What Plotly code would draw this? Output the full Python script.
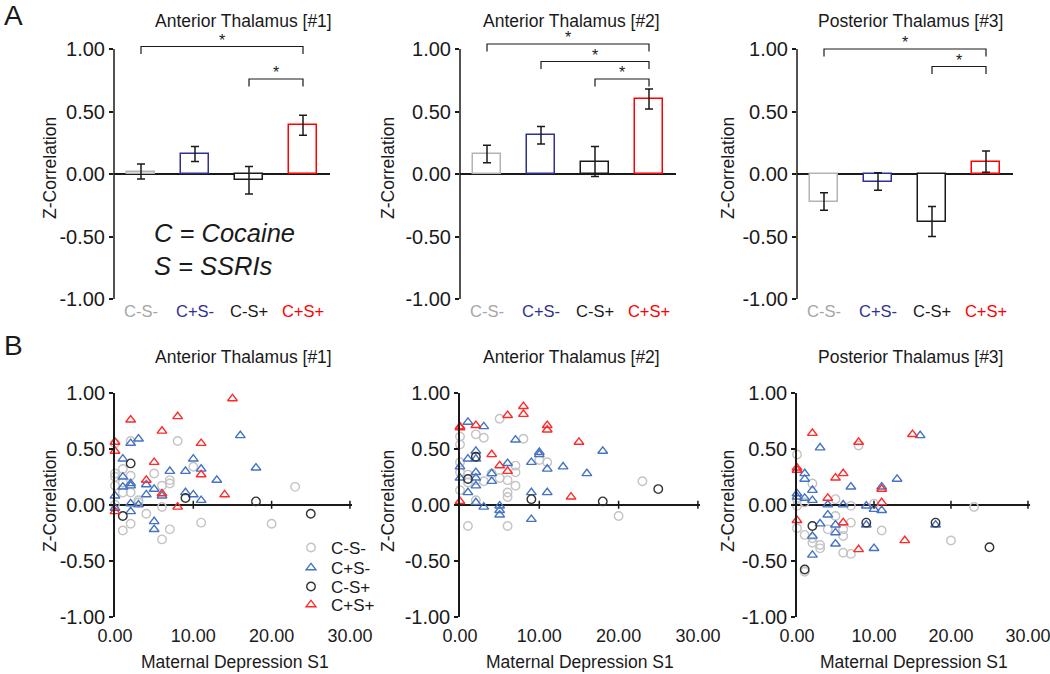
import plotly.graph_objects as go

# ---- panel A: group means (bars) ----
groups = ['C-S-', 'C+S-', 'C-S+', 'C+S+']
region_titles = ['Anterior Thalamus [#1]', 'Anterior Thalamus [#2]', 'Posterior Thalamus [#3]']
y_ticks = [-1.0, -0.5, 0.0, 0.5, 1.0]
y_ticktext = ['-1.00', '-0.50', '0.00', '0.50', '1.00']
x_ticks = [0, 10, 20, 30]
x_ticktext = ['0.00', '10.00', '20.00', '30.00']

means_1 = [0.02, 0.16, -0.05, 0.39]
sems_1 = [0.06, 0.06, 0.11, 0.08]
means_2 = [0.16, 0.31, 0.10, 0.60]
sems_2 = [0.07, 0.07, 0.12, 0.08]
means_3 = [-0.22, -0.06, -0.38, 0.10]
sems_3 = [0.07, 0.07, 0.12, 0.085]

# significance brackets: (from group, to group, height)
sig_1 = [(0, 3, 1.02), (2, 3, 0.76)]
sig_2 = [(0, 3, 1.04), (1, 3, 0.90), (2, 3, 0.76)]
sig_3 = [(0, 3, 1.00), (2, 3, 0.86)]

# ---- panel B: maternal depression vs z-correlation ----
b1_csm_x = [0, 0, 0, 0, 0, 1, 1, 1, 1, 2, 2, 2, 2, 3, 3, 4, 5, 6, 6, 6, 7, 7, 7, 8, 10, 11, 20, 23]
b1_csm_y = [0.55, 0.28, 0.25, 0.17, 0.00, 0.32, 0.20, 0.11, -0.23, 0.57, 0.26, 0.11, -0.17, 0.04, 0.02,
            -0.08, 0.28, 0.17, -0.02, -0.31, 0.22, 0.19, -0.22, 0.57, 0.34, -0.16, -0.17, 0.16]
b1_cpsm_x = [16, 3, 2, 10, 1, 18, 7, 9, 11, 1, 13, 2, 2, 1, 4, 5, 4, 9, 10, 6, 0, 11, 2, 3, 0, 2, 5, 5]
b1_cpsm_y = [0.62, 0.59, 0.55, 0.41, 0.41, 0.33, 0.30, 0.30, 0.32, 0.25, 0.22, 0.19, 0.17, 0.16, 0.18,
             0.14, 0.09, 0.11, 0.09, 0.08, 0.08, 0.04, 0.01, 0.00, -0.03, -0.06, -0.15, -0.22]
b1_csp_x = [1, 2, 9, 18, 25]
b1_csp_y = [-0.10, 0.37, 0.06, 0.03, -0.08]
b1_cpsp_x = [0, 0, 0, 2, 4, 5, 6, 6, 8, 8, 11, 11, 14, 15]
b1_cpsp_y = [0.56, 0.48, -0.06, 0.76, 0.22, 0.38, 0.66, 0.10, 0.79, -0.02, 0.55, 0.27, 0.09, 0.95]

b2_csm_x = [0, 0, 0, 0, 0, 1, 1, 1, 2, 2, 2, 3, 3, 4, 5, 5, 6, 6, 6, 6, 7, 7, 7, 8, 10, 11, 20, 23]
b2_csm_y = [0.61, 0.54, 0.38, 0.29, 0.13, 0.27, 0.20, -0.19, 0.63, 0.22, 0.04, 0.60, 0.21, 0.28, 0.77,
            0.24, 0.22, 0.11, 0.07, -0.19, 0.35, 0.29, 0.17, 0.59, 0.40, 0.38, -0.10, 0.21]
b2_cpsm_x = [1, 3, 7, 18, 2, 10, 10, 1, 2, 9, 6, 0, 13, 11, 16, 2, 4, 0, 2, 4, 2, 1, 9, 11, 3, 5, 5, 5, 9, 2]
b2_cpsm_y = [0.74, 0.70, 0.58, 0.48, 0.48, 0.47, 0.45, 0.41, 0.41, 0.38, 0.37, 0.34, 0.34, 0.32, 0.28,
             0.29, 0.28, 0.24, 0.24, 0.21, 0.17, 0.11, 0.11, 0.11, -0.02, -0.01, -0.05, -0.09, -0.13, 0.02]
b2_csp_x = [1, 2, 9, 18, 25]
b2_csp_y = [0.23, 0.43, 0.05, 0.03, 0.14]
b2_cpsp_x = [0, 0, 0, 2, 4, 5, 6, 6, 8, 8, 11, 11, 14, 15]
b2_cpsp_y = [0.69, 0.70, 0.03, 0.71, 0.45, 0.35, 0.80, 0.30, 0.88, 0.81, 0.71, 0.67, 0.07, 0.56]

b3_csm_x = [0, 0, 0, 0, 1, 1, 1, 2, 2, 2, 3, 3, 4, 5, 5, 6, 6, 6, 7, 7, 7, 8, 10, 11, 20, 23]
b3_csm_y = [0.45, 0.05, -0.01, -0.21, 0.02, -0.27, -0.60, 0.19, -0.34, -0.30, -0.39, -0.36, -0.22,
            0.05, -0.10, -0.28, -0.22, -0.43, -0.01, -0.44, -0.16, 0.53, 0.01, -0.23, -0.32, -0.02]
b3_cpsm_x = [16, 3, 1, 1, 13, 7, 11, 2, 0, 0, 1, 2, 4, 6, 9, 10, 11, 4, 3, 5, 9, 18, 5, 2, 5, 10, 2]
b3_cpsm_y = [0.62, 0.51, 0.28, 0.23, 0.23, 0.16, 0.16, 0.13, 0.10, 0.07, 0.06, 0.04, 0.00, 0.00, -0.01,
             -0.04, -0.05, -0.09, -0.17, -0.18, -0.18, -0.18, -0.25, -0.28, -0.35, -0.39, -0.45]
b3_csp_x = [1, 2, 9, 18, 25]
b3_csp_y = [-0.58, -0.19, -0.16, -0.16, -0.38]
b3_cpsp_x = [0, 0, 0, 2, 4, 5, 6, 6, 8, 8, 11, 11, 14, 15]
b3_cpsp_y = [0.31, 0.33, -0.14, 0.64, 0.06, 0.24, 0.28, -0.16, 0.56, -0.40, 0.14, 0.02, -0.32, 0.63]

FONT = 'Arial, "Liberation Sans", sans-serif'
INK = '#1a1a1a'
bar_line = ['#b3b3b3', '#2e3192', INK, '#ff0000']
label_col = ['#a6a6a6', '#2e3192', INK, '#ff0000']
pt_col = ['#c4c4c4', '#4472c4', '#333333', '#ff2a2a']
pt_sym = ['circle-open', 'triangle-up-open', 'circle-open', 'triangle-up-open']

bars = [(means_1, sems_1, sig_1), (means_2, sems_2, sig_2), (means_3, sems_3, sig_3)]
scatters = [
    [(b1_csm_x, b1_csm_y), (b1_cpsm_x, b1_cpsm_y), (b1_csp_x, b1_csp_y), (b1_cpsp_x, b1_cpsp_y)],
    [(b2_csm_x, b2_csm_y), (b2_cpsm_x, b2_cpsm_y), (b2_csp_x, b2_csp_y), (b2_cpsp_x, b2_cpsp_y)],
    [(b3_csm_x, b3_csm_y), (b3_cpsm_x, b3_cpsm_y), (b3_csp_x, b3_csp_y), (b3_cpsp_x, b3_cpsp_y)],
]

# pixel geometry of the 6 plot areas (1050 x 674 canvas)
W, H = 1050, 674
bar_dom_x = [(114, 330), (460, 676), (797, 1013)]
bar_dom_y = (34, 299)
sc_dom_x = [(115, 351.5), (460, 699.5), (797, 1029.5)]
sc_dom_y = (393, 616.5)
title_cx = [243, 571, 910]
ytitle_x = [50, 388, 728]
xtitle_cx = [235, 580, 914]
legend_rows = [548, 568, 587, 605]

def px(v):
    return v / W

def py(v):
    return 1 - v / H

def axid(n):
    return '' if n == 1 else str(n)

fig = go.Figure()
layout = dict(width=W, height=H, margin=dict(l=0, r=0, t=0, b=0, autoexpand=False), paper_bgcolor='white',
              plot_bgcolor='white', font=dict(family=FONT, color=INK), showlegend=True,
              bargap=0, shapes=[], annotations=[])

yaxis_base = dict(tickvals=y_ticks, ticktext=y_ticktext, ticks='outside', ticklen=4, tickwidth=1.5,
                  tickcolor=INK, showgrid=False, zeroline=True, zerolinecolor=INK, zerolinewidth=1.5,
                  tickfont=dict(size=20, color=INK, family=FONT), fixedrange=True, automargin=False)

def ann(text, x, y, size, **kw):
    d = dict(text=text, x=x, y=y, xref='paper', yref='paper', showarrow=False,
             font=dict(size=size, color=INK, family=FONT), xanchor='center', yanchor='middle')
    d.update(kw)
    layout['annotations'].append(d)

for p in range(3):
    means, sems, sigs = bars[p]
    n = p + 1
    xa, ya = 'x' + axid(n), 'y' + axid(n)
    fig.add_trace(go.Bar(x=list(range(len(groups))), y=means, width=0.52,
                         marker=dict(color='white', line=dict(color=bar_line, width=1.5)),
                         error_y=dict(type='data', array=sems, color=INK, thickness=1.5, width=4),
                         xaxis=xa, yaxis=ya, showlegend=False, hoverinfo='y'))
    layout['xaxis%d' % n] = dict(domain=[px(bar_dom_x[p][0]), px(bar_dom_x[p][1])], anchor=ya,
                                 range=[-0.5, 3.5], tickvals=list(range(len(groups))),
                                 ticktext=['<span style="color:%s">%s</span>' % (c, g)
                                           for g, c in zip(groups, label_col)],
                                 ticks='', showline=False, zeroline=False, showgrid=False,
                                 tickfont=dict(size=16.5, family=FONT), fixedrange=True, automargin=False)
    layout['yaxis%d' % n] = dict(yaxis_base, domain=[py(bar_dom_y[1]), py(bar_dom_y[0])], anchor=xa,
                                 range=[-1, 1.12], showline=False)
    # y spine from -1 to 1 only
    layout['shapes'].append(dict(type='line', xref=xa + ' domain', yref=ya, x0=0, x1=0, y0=-1, y1=1,
                                 line=dict(color=INK, width=1.5)))
    for a, b, h in sigs:
        layout['shapes'].append(dict(type='path', xref=xa, yref=ya,
                                     path='M %g,%g L %g,%g L %g,%g L %g,%g' % (a, h - 0.06, a, h, b, h, b, h - 0.06),
                                     line=dict(color=INK, width=1.2)))
        layout['annotations'].append(dict(text='*', x=(a + b) / 2, y=h + 0.05, xref=xa, yref=ya,
                                          showarrow=False, font=dict(size=16, color=INK, family=FONT)))
    ann(region_titles[p], px(title_cx[p]), py(21), 17.5)
    ann('Z-Correlation', px(ytitle_x[p]), py(168), 17.5, textangle=-90)

legend_names = ['legend', 'legend2', 'legend3', 'legend4']
for p in range(3):
    n = p + 4
    xa, ya = 'x' + axid(n), 'y' + axid(n)
    for g in range(4):
        xs, ys = scatters[p][g]
        fig.add_trace(go.Scatter(x=xs, y=ys, mode='markers', name=groups[g], legendgroup=groups[g],
                                 legend=legend_names[g], showlegend=(p == 0), cliponaxis=False,
                                 marker=dict(symbol=pt_sym[g], size=8.5, color=pt_col[g],
                                             line=dict(width=1.4, color=pt_col[g])),
                                 xaxis=xa, yaxis=ya))
    layout['xaxis%d' % n] = dict(domain=[px(sc_dom_x[p][0]), px(sc_dom_x[p][1])], anchor=ya,
                                 range=[0, 30.2], tickvals=x_ticks, ticktext=x_ticktext, ticks='',
                                 showline=False, zeroline=False, showgrid=False, ticklabelstandoff=6,
                                 ticklabeloverflow='allow',
                                 tickfont=dict(size=18, color=INK, family=FONT), fixedrange=True,
                                 automargin=False)
    layout['yaxis%d' % n] = dict(yaxis_base, domain=[py(sc_dom_y[1]), py(sc_dom_y[0])], anchor=xa,
                                 range=[-1, 1], showline=True, linecolor=INK, linewidth=1.5)
    for t in x_ticks[1:]:
        layout['shapes'].append(dict(type='line', xref=xa, yref=ya, x0=t, x1=t, y0=-0.035, y1=0.035,
                                     line=dict(color=INK, width=1.5)))
    ann(region_titles[p], px(title_cx[p]), py(357), 17.5)
    ann('Z-Correlation', px(ytitle_x[p]), py(501), 17.5, textangle=-90)
    ann('Maternal Depression S1', px(xtitle_cx[p]), py(662), 17.5)

ann('A', px(2), py(15), 28, xanchor='left')
ann('B', px(2), py(345), 28, xanchor='left')
ann('<i>C = Cocaine</i>', px(152), py(233), 25.5, xanchor='left')
ann('<i>S = SSRIs</i>', px(152), py(266), 25.5, xanchor='left')

# one single-entry legend per group so rows can sit as tightly as in the original
for g, name in enumerate(legend_names):
    layout[name] = dict(x=px(291), y=py(legend_rows[g]), xanchor='left', yanchor='middle',
                        bgcolor='rgba(0,0,0,0)', borderwidth=0, itemwidth=30,
                        font=dict(size=17, color=INK, family=FONT))

fig.update_layout(layout)
# drop the browser's default 8px page margin so the figure sits at the window origin
fig.write_html("out.html", config={'displayModeBar': False},
               post_script="document.body.style.margin='0';")
